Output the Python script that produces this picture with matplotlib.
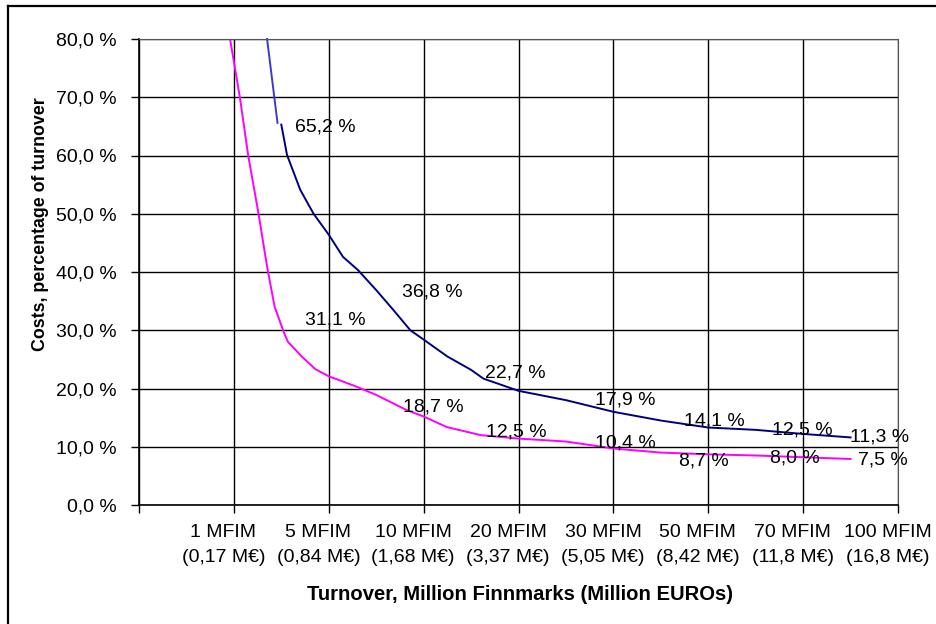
import matplotlib
matplotlib.use("Agg")
import matplotlib.pyplot as plt
from matplotlib.lines import Line2D

plt.rcParams['font.family'] = ['Liberation Sans', 'DejaVu Sans']

# x ticks (category positions 1..8)
tick_labels = ["1 MFIM\n(0,17 M€)", "5 MFIM\n(0,84 M€)", "10 MFIM\n(1,68 M€)", "20 MFIM\n(3,37 M€)",
               "30 MFIM\n(5,05 M€)", "50 MFIM\n(8,42 M€)", "70 MFIM\n(11,8 M€)", "100 MFIM\n(16,8 M€)"]
y_ticks = [0, 10, 20, 30, 40, 50, 60, 70, 80]

# upper curve (navy), with a short lighter start segment
blue_top_x = [1.35, 1.46]
blue_top_y = [80.0, 65.6]
blue_x = [1.50, 1.56, 1.70, 1.84, 2.0, 2.15, 2.31, 2.5, 2.68, 2.86, 3.0, 3.25, 3.5, 3.63,
          4.0, 4.5, 5.0, 5.5, 6.0, 6.5, 7.0, 7.5]
blue_y = [65.3, 60.1, 54.1, 50.0, 46.4, 42.6, 40.3, 36.9, 33.5, 30.0, 28.4, 25.5, 23.2, 21.7,
          19.6, 18.0, 16.0, 14.5, 13.3, 12.9, 12.2, 11.6]

# lower curve (magenta)
pink_x = [0.96, 1.065, 1.15, 1.26, 1.35, 1.43, 1.53, 1.57, 1.715, 1.86, 2.0, 2.15, 2.31, 2.5,
          2.82, 3.0, 3.24, 3.6, 4.0, 4.5, 5.0, 5.5, 6.0, 6.5, 7.0, 7.5]
pink_y = [80.0, 69.8, 60.1, 50.0, 40.9, 34.0, 29.5, 28.0, 25.5, 23.3, 22.1, 21.2, 20.2, 18.9,
          16.3, 15.2, 13.4, 12.0, 11.4, 10.9, 9.7, 9.0, 8.7, 8.5, 8.2, 7.9]

# data labels: text, x (left edge), y (centre)
blue_lbl = ["65,2 %", "36,8 %", "22,7 %", "17,9 %", "14,1 %", "12,5 %", "11,3 %"]
blue_lbl_x = [1.645, 2.773, 3.648, 4.808, 5.746, 6.674, 7.496]
blue_lbl_y = [64.9, 36.6, 22.7, 18.0, 14.4, 12.8, 11.6]
pink_lbl = ["31,1 %", "18,7 %", "12,5 %", "10,4 %", "8,7 %", "8,0 %", "7,5 %"]
pink_lbl_x = [1.75, 2.78, 3.66, 4.81, 5.69, 6.65, 7.58]
pink_lbl_y = [31.8, 16.8, 12.5, 10.6, 7.6, 8.1, 7.7]

fig = plt.figure(figsize=(9.36, 6.24), dpi=100)
ax = fig.add_axes([139/936, 1 - 505/624, (898 - 139)/936, (505 - 39)/624])

ax.plot(blue_top_x, blue_top_y, color='#3a3ad0', lw=1.4, clip_on=False)
ax.plot(blue_x, blue_y, color='#000080', lw=1.4)
ax.plot(pink_x, pink_y, color='#ff00ff', lw=1.4)

fs = 14
for t, x, y in zip(blue_lbl, blue_lbl_x, blue_lbl_y):
    ax.text(x, y, t, ha='left', va='center', fontsize=fs)
for t, x, y in zip(pink_lbl, pink_lbl_x, pink_lbl_y):
    ax.text(x, y, t, ha='left', va='center', fontsize=fs)

ax.set_xlim(0, 8)
ax.set_ylim(0, 80)
ax.set_yticks(y_ticks)
ax.set_yticklabels([f"{v:.1f} %".replace('.', ',') for v in y_ticks], fontsize=fs)
ax.set_xticks(range(9))
ax.set_xticklabels([])
ax.set_xticks([k - 0.11 for k in range(1, 9)], minor=True)
ax.set_xticklabels(tick_labels, minor=True, fontsize=fs, linespacing=1.6)
ax.tick_params(axis='x', which='minor', length=0, pad=14)
ax.tick_params(axis='both', which='major', length=6, width=1, color='black', pad=8)
ax.tick_params(axis='y', which='major', pad=10)
ax.grid(True, which='major', color='black', lw=1)
for s in ['top', 'right']:
    ax.spines[s].set_color('#555555')
for s in ['left', 'bottom']:
    ax.spines[s].set_linewidth(1.2)

fig.text(520 / 936, 1 - 595 / 624, "Turnover, Million Finnmarks (Million EUROs)",
         ha='center', va='center', fontsize=14.6, fontweight='bold')
fig.text(41 / 936, 1 - 224 / 624, "Costs, percentage of turnover",
         ha='center', va='center', rotation=90, fontsize=12.8, fontweight='bold')

# outer chart frame (left and top edges visible)
fig.add_artist(Line2D([8/936, 8/936], [0, 1 - 6/624], transform=fig.transFigure, color='black', lw=1.6))
fig.add_artist(Line2D([8/936, 1], [1 - 6/624, 1 - 6/624], transform=fig.transFigure, color='black', lw=1.6))

fig.savefig("out.png", dpi=100)
